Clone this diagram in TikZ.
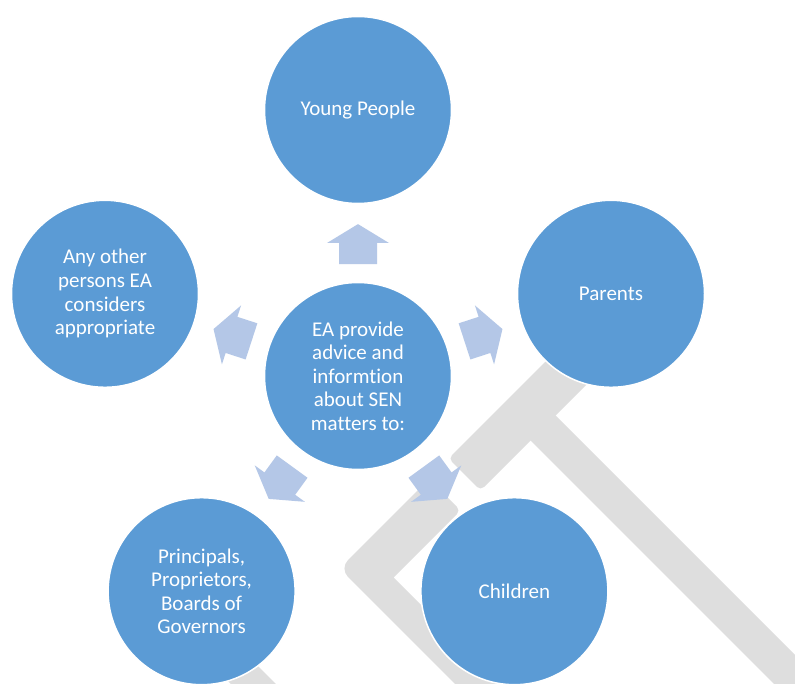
\documentclass[tikz,border=0pt]{standalone}
\usepackage{fontspec}
\setmainfont{Carlito}[Ligatures={NoCommon,NoContextual,NoRequired}]
\usetikzlibrary{calc}
\definecolor{groupblue}{HTML}{5B9BD5}
\definecolor{arrowblue}{HTML}{B4C7E7}
\definecolor{backgray}{HTML}{DEDEDE}
\tikzset{
  group/.style={circle, minimum size=187pt, inner sep=0pt, align=center, fill=groupblue, draw=white, line width=1.5pt, text=white, font=\fontsize{21}{23.6}\selectfont},
  blockarrow/.style={fill=arrowblue},
  backdrop/.style={fill=backgray}
}

\begin{document}
\begin{tikzpicture}[x=1pt, y=-1pt]

        \useasboundingbox (0,0) rectangle (795,684);
        \fill[white] (0,0) rectangle (795,684);
        \clip (0,0) rectangle (795,684);

        % Gray strokes in the back
        \fill[backdrop, rounded corners=5pt] (448.5,458.5) -- (480.5,490.5) -- (590.5,380.5) -- (558.5,348.5) -- cycle;
        \fill[backdrop] (525,435) -- (550,410) -- (920,780) -- (895,805) -- cycle;
        \fill[backdrop] (393.5,577.5) [rounded corners=5pt] -- (460.5,510.5) -- (429,479) [rounded corners=12pt] -- (339.5,568.5) -- (535.5,764.5) [sharp corners] -- (558,742) -- cycle;
        \fill[backdrop] (167,620) -- (212,620) -- (352,760) -- (307,760) -- cycle;

        % Centre and the five groups round it
        \node (hub) [group] at (358,376) {EA provide\\advice and\\infor{}mt{}ion\\about SEN\\mat{}t{}ers to:};
        \node (young) [group] at (358,110) {Young People};
        \node (parents) [group] at (611,293.8) {Parents};
        \node (children) [group] at (514.4,591.2) {Children};
        \node (principals) [group] at (201.6,591.2) {Principals,\\Proprietors,\\Boards of\\Governors};
        \node (others) [group] at (105,293.8) {Any other\\persons EA\\considers\\appropriate};

        % Block arrows from the centre
        \foreach \target in {young,parents,children,principals,others}{
          \coordinate (s) at ($(hub)!0.421!(\target)$);
          \coordinate (h) at ($(hub)!0.5!(\target)$);
          \coordinate (t) at ($(hub)!0.571!(\target)$);
          \fill[blockarrow] ($(s)!19pt!90:(t)$) -- ($(h)!19pt!90:(t)$) -- ($(h)!31pt!90:(t)$) -- (t)
            -- ($(h)!31pt!-90:(t)$) -- ($(h)!19pt!-90:(t)$) -- ($(s)!19pt!-90:(t)$) -- cycle;
        }

\end{tikzpicture}
\end{document}
